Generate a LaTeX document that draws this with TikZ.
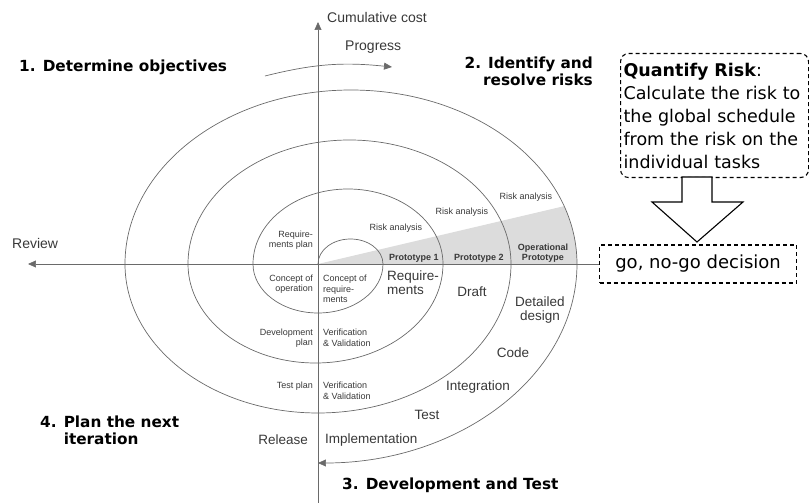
\documentclass[tikz,border=0pt]{standalone}
\usepackage{fontspec}
\setmainfont{Liberation Sans}
\newfontfamily\verdfont{DejaVu Sans}
\usepackage{tikz}
\usetikzlibrary{arrows.meta}

\definecolor{inkgray}{HTML}{383838}
\definecolor{linegray}{HTML}{6A6A6A}
\definecolor{wedgegray}{HTML}{DCDCDC}

\tikzstyle{lbl}      = [text=inkgray, font=\fontsize{9}{10.5}\selectfont, inner sep=0pt]
\tikzstyle{big}      = [text=inkgray, font=\fontsize{13.5}{14}\selectfont, inner sep=0pt]
\tikzstyle{proto}    = [text=inkgray, font=\fontsize{9}{10}\selectfont\bfseries, inner sep=0pt]
\tikzstyle{axtext}   = [text=inkgray, font=\fontsize{14}{16}\selectfont, inner sep=0pt]
\tikzstyle{phase}    = [font=\verdfont\fontsize{15.3}{17}\selectfont\bfseries, inner sep=0pt]
\tikzstyle{axisline} = [draw=linegray, line width=0.7pt]
\tikzstyle{arrowed}  = [-{Triangle[length=8pt,width=7pt]}]
\tikzstyle{dbox}     = [draw, line width=1.1pt, dash pattern=on 4pt off 3pt]

\begin{document}
\begin{tikzpicture}[x=1pt, y=1pt]

\useasboundingbox (-318,-239) rectangle (491,264);

% shaded risk wedge
\begin{scope}
  \clip (33,0) ellipse [x radius=226, y radius=174];
  \fill [wedgegray] (0,0) -- (300,70.5) -- (300,0) -- cycle;
\end{scope}

% spiral
\draw [axisline, arrowed]
  (0,0)  arc [start angle=180, end angle=0,    x radius=32.5,  y radius=25]
         arc [start angle=0,   end angle=-180, x radius=65,    y radius=49]
         arc [start angle=180, end angle=0,    x radius=95,    y radius=75]
         arc [start angle=0,   end angle=-180, x radius=127.5, y radius=99]
         arc [start angle=180, end angle=0,    x radius=161.5, y radius=124]
         arc [start angle=0,   end angle=-180, x radius=193,   y radius=149]
         arc [start angle=180, end angle=0,    x radius=226,   y radius=174]
         arc [start angle=0,   end angle=-90,  x radius=259,   y radius=199];

% boxes
\node [dbox, rounded corners=8pt, anchor=north west, text width=182pt, minimum height=124pt,
       inner xsep=3pt, inner ysep=6pt, align=left,
       font=\verdfont\fontsize{17.5}{23}\selectfont]              at ( 302, 211) (qbox)
      {\textbf{Quantify Risk}:\\Calculate the risk to\\the global schedule\\from the risk on the\\individual tasks};
\node [dbox, anchor=west, minimum width=197pt, minimum height=38pt, inner sep=0pt,
       font=\verdfont\fontsize{18}{20}\selectfont]                at ( 281,   0) (gobox) {go, no-go decision};

% axes
\coordinate (vbot)    at (   0, -239);
\coordinate (vtop)    at (   0,  242);
\coordinate (revtip)  at (-290,    0);
\coordinate (pstart)  at ( -53,  188);
\coordinate (pend)    at (  74,  197);
\coordinate (downtip) at ( 379,   22);

\draw [axisline, arrowed] (vbot)       -- (vtop);
\draw [axisline, arrowed] (gobox.west) -- (revtip);
\draw [axisline, arrowed] (pstart) to [bend left=10] (pend);

% block arrow
\draw [line width=1.1pt, fill=white]
  (downtip) -- ++(-45,40) -- ++(30,0) -- ++(0,25) -- ++(30,0) -- ++(0,-25) -- ++(31,0) -- cycle;

% axis texts
\node [axtext, anchor=west] at (   9, 247) (cost)     {Cumulative cost};
\node [axtext, anchor=west] at (  27, 217) (progress) {Progress};
\node [axtext, anchor=west] at (-306,  21) (review)   {Review};

% quadrant titles
\node [phase, anchor=west]               at (-299,  197) (q1) {1. Determine objectives};
\node [phase, anchor=east, align=right]  at ( 275,  193) (q2) {2. Identify and\\resolve risks};
\node [phase, anchor=west]               at (  24, -221) (q3) {3. Development and Test};
\node [phase, anchor=west, align=left]   at (-278, -166) (q4) {4. Plan the next\\\phantom{4. }iteration};

% spiral labels
\node [lbl, anchor=east, align=right] at ( -5,   24) (reqplan)  {Require-\\ments plan};
\node [lbl]                           at ( 78,   36) (risk1)    {Risk analysis};
\node [lbl]                           at (144,   52) (risk2)    {Risk analysis};
\node [lbl]                           at (208,   67) (risk3)    {Risk analysis};
\node [proto]                         at ( 96,    6) (proto1)   {Prototype 1};
\node [proto]                         at (161,    6) (proto2)   {Prototype 2};
\node [proto, align=center]           at (225,   11) (proto3)   {Operational\\Prototype};
\node [lbl, anchor=east, align=right] at ( -5,  -20) (conop)    {Concept of\\operation};
\node [lbl, anchor=west, align=left]  at (  5,  -25) (conreq)   {Concept of\\require-\\ments};
\node [big, anchor=west, align=left]  at ( 69,  -19) (reqs)     {Require-\\ments};
\node [big]                           at (154,  -28) (draft)    {Draft};
\node [big, align=center]             at (222,  -46) (design)   {Detailed\\design};
\node [big]                           at (195,  -89) (code)     {Code};
\node [big]                           at (160, -123) (integr)   {Integration};
\node [big]                           at (109, -151) (test)     {Test};
\node [big, anchor=west]              at (  7, -176) (impl)     {Implementation};
\node [big, anchor=east]              at (-10, -176) (release)  {Release};
\node [lbl, anchor=east, align=right] at ( -5,  -74) (devplan)  {Development\\plan};
\node [lbl, anchor=west, align=left]  at (  5,  -74) (vv1)      {Verification\\\& Validation};
\node [lbl, anchor=east]              at ( -5, -122) (testplan) {Test plan};
\node [lbl, anchor=west, align=left]  at (  5, -127) (vv2)      {Verification\\\& Validation};

\end{tikzpicture}
\end{document}
